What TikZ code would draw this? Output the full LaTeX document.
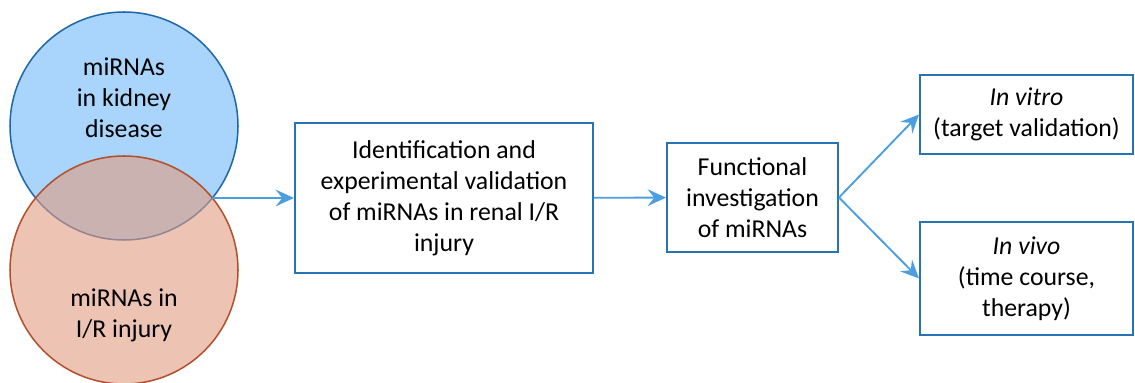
\documentclass[tikz,border=0pt]{standalone}
\usepackage{fontspec}
\setmainfont{Carlito}
\usetikzlibrary{arrows.meta}
\definecolor{setblue}{RGB}{169,213,252}
\definecolor{setblueline}{RGB}{31,104,168}
\definecolor{setred}{RGB}{225,155,128}
\definecolor{setredline}{RGB}{178,80,45}
\definecolor{boxline}{RGB}{40,114,182}
\definecolor{arrowblue}{RGB}{75,158,224}
\tikzset{
  irbox/.style={draw=boxline, line width=1.7pt, align=center, inner sep=0pt,
    font=\fontsize{22}{26.5}\selectfont, fill=white},
  irset/.style={circle, minimum size=6.84cm, inner sep=0pt, line width=1.3pt},
  irlabel/.style={align=center, font=\fontsize{22}{26.5}\selectfont},
  irarrow/.style={-{Stealth[length=5.5mm, width=5mm, inset=2mm]}, line width=1.6pt, draw=arrowblue}
}
\begin{document}
\begin{tikzpicture}
  \useasboundingbox (0,0) rectangle (34.05,11.49);
  % overlapping sets
  \node[irset, fill=setblue, draw=setblueline] (kid) at (3.72,7.71) {};
  \node[irset, fill=setred, fill opacity=0.6, draw=setredline] (isc) at (3.72,3.39) {};
  \node[irlabel] (kidtxt) at (3.72,8.55) {miRNAs\\in kidney\\disease};
  \node[irlabel] (isctxt) at (3.72,2.03) {miRNAs in\\I/R injury};
  \coordinate (meet) at (6.37,5.55);
  % steps
  \node[irbox, minimum width=8.94cm, minimum height=4.5cm] (s1) at (13.32,5.55)
    {Identification and\\experimental validation\\of miRNAs in renal I/R\\injury};
  \node[irbox, minimum width=5.13cm, minimum height=3.27cm] (s2) at (22.575,5.565)
    {Functional\\investigation\\of miRNAs};
  \node[irbox, minimum width=6.39cm, minimum height=2.37cm] (s3) at (30.795,8.055)
    {\textit{In vitro}\\(target validation)};
  \node[irbox, minimum width=6.39cm, minimum height=3.39cm] (s4) at (30.795,3.135)
    {\textit{In vivo}\\(time course,\\therapy)};
  \draw[irarrow] (meet) -- (s1.west);
  \draw[irarrow] (s1) -- (s2);
  \draw[irarrow] (s2.east) -- (s3.west);
  \draw[irarrow] (s2.east) -- (s4.west);
\end{tikzpicture}
\end{document}
